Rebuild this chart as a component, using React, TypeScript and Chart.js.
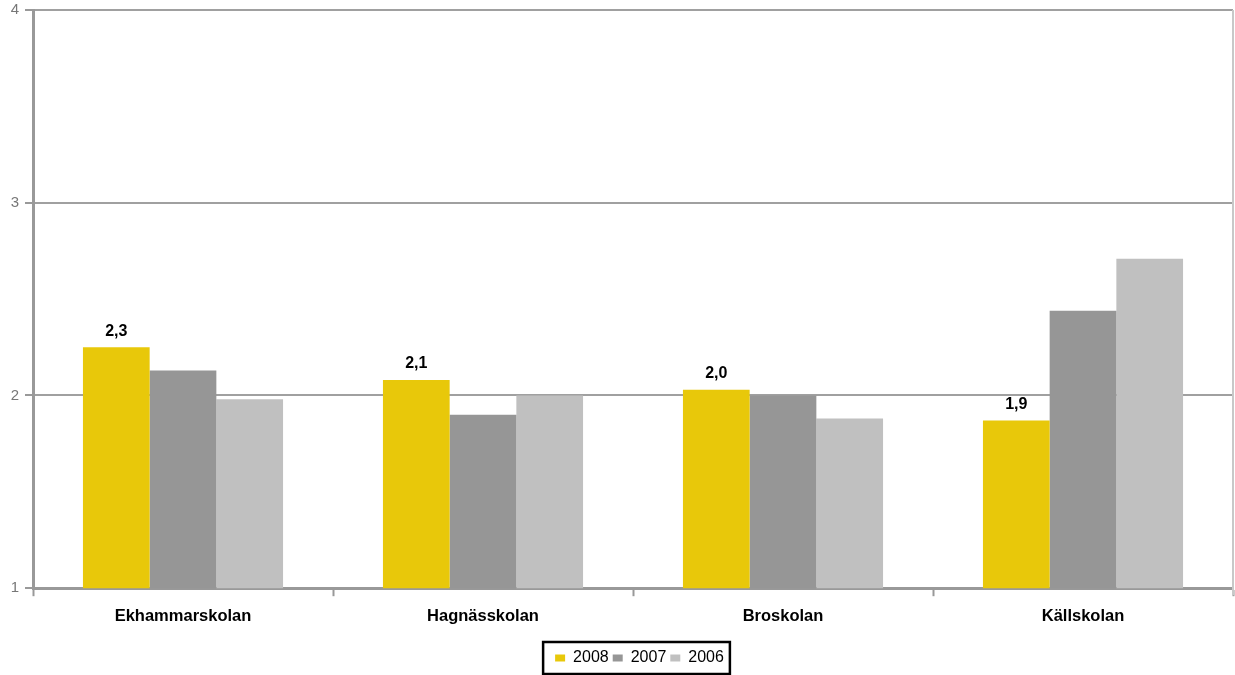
import React, { useEffect, useRef } from "react";
import { Chart, registerables } from "chart.js";

Chart.register(...registerables);

const categories = ["Ekhammarskolan", "Hagnässkolan", "Broskolan", "Källskolan"];
const seriesNames = ["2008", "2007", "2006"];
const values2008 = [2.25, 2.08, 2.03, 1.87];
const values2007 = [2.13, 1.9, 2.0, 2.44];
const values2006 = [1.98, 2.0, 1.88, 2.71];
const labels2008 = ["2,3", "2,1", "2,0", "1,9"];
const yTicks = [1, 2, 3, 4];

const FONT = "'Liberation Sans', Arial, sans-serif";

const valueLabelPlugin = {
  id: "valueLabels",
  afterDatasetsDraw(chart: any) {
    const ctx = chart.ctx;
    const meta = chart.getDatasetMeta(0);
    ctx.save();
    ctx.font = `bold 16px ${FONT}`;
    ctx.fillStyle = "#000";
    ctx.textAlign = "center";
    ctx.textBaseline = "bottom";
    meta.data.forEach((bar: any, i: number) => {
      ctx.fillText(labels2008[i], bar.x, bar.y - 8);
    });
    ctx.restore();
  },
};

const frameAndLegendPlugin = {
  id: "frameLegend",
  afterLayout(chart: any) {
    const legend = chart.legend;
    if (legend) {
      legend.left += 23;
      legend.right += 23;
      legend.top += 1;
      legend.bottom += 1;
    }
  },
  beforeDatasetsDraw(chart: any) {
    const { ctx, chartArea } = chart;
    ctx.save();
    ctx.strokeStyle = "#c8c8c8";
    ctx.lineWidth = 2;
    ctx.beginPath();
    ctx.moveTo(chartArea.right, chartArea.top);
    ctx.lineTo(chartArea.right, chartArea.bottom + 7);
    ctx.stroke();
    ctx.restore();
  },
  afterDraw(chart: any) {
    const legend = chart.legend;
    if (!legend || !legend.legendHitBoxes || !legend.legendHitBoxes.length) return;
    const boxes = legend.legendHitBoxes;
    let l = Infinity, r = -Infinity, t = Infinity, b = -Infinity;
    boxes.forEach((h: any) => {
      l = Math.min(l, h.left);
      r = Math.max(r, h.left + h.width);
      t = Math.min(t, h.top);
      b = Math.max(b, h.top + h.height);
    });
    const cy = (t + b) / 2;
    const ctx = chart.ctx;
    ctx.save();
    ctx.strokeStyle = "#000";
    ctx.lineWidth = 2.5;
    ctx.strokeRect(l - 12, cy - 16, r - l + 18, 32);
    ctx.restore();
  },
};

export default function App() {
  const ref = useRef<HTMLCanvasElement>(null);
  useEffect(() => {
    if (!ref.current) return;
    const chart = new Chart(ref.current, {
      type: "bar",
      data: {
        labels: categories,
        datasets: [
          { label: seriesNames[0], data: values2008, backgroundColor: "#E8C80A" },
          { label: seriesNames[1], data: values2007, backgroundColor: "#969696" },
          { label: seriesNames[2], data: values2006, backgroundColor: "#C0C0C0" },
        ],
      },
      options: {
        animation: false,
        responsive: true,
        maintainAspectRatio: false,
        layout: { padding: { top: 10, right: 2, left: 0, bottom: 0 } },
        datasets: { bar: { categoryPercentage: 0.667, barPercentage: 1.0 } },
        plugins: {
          tooltip: { enabled: false },
          legend: {
            position: "bottom",
            labels: {
              font: { family: FONT, size: 16 },
              color: "#000",
              boxWidth: 10,
              boxHeight: 7,
              padding: 4,
            },
          },
        },
        scales: {
          x: {
            afterFit: (scale: any) => {
              scale.height += 9;
            },
            grid: {
              drawOnChartArea: false,
              drawTicks: true,
              tickLength: 8,
              tickColor: "#999",
              tickWidth: 2,
              offset: true,
            },
            border: { color: "#999", width: 3 },
            ticks: {
              font: { family: FONT, size: 16.5, weight: "bold" },
              color: "#000",
              padding: 10,
            },
          },
          y: {
            min: 1,
            max: 4,
            afterBuildTicks: (scale: any) => {
              scale.ticks = yTicks.map((v) => ({ value: v }));
            },
            afterFit: (scale: any) => {
              scale.width = 33;
              scale.paddingTop = 0;
              scale.paddingBottom = 0;
            },
            grid: {
              color: "#a0a0a0",
              lineWidth: 2,
              tickLength: 8,
              tickColor: "#999",
            },
            border: { color: "#999", width: 3 },
            ticks: {
              font: { family: FONT, size: 15 },
              color: "#777",
              padding: 6,
            },
          },
        },
      },
      plugins: [valueLabelPlugin, frameAndLegendPlugin],
    } as any);
    return () => chart.destroy();
  }, []);
  return (
    <div style={{ position: "fixed", left: 0, top: 0, width: 1235, height: 675 }}>
      <canvas ref={ref} />
    </div>
  );
}
